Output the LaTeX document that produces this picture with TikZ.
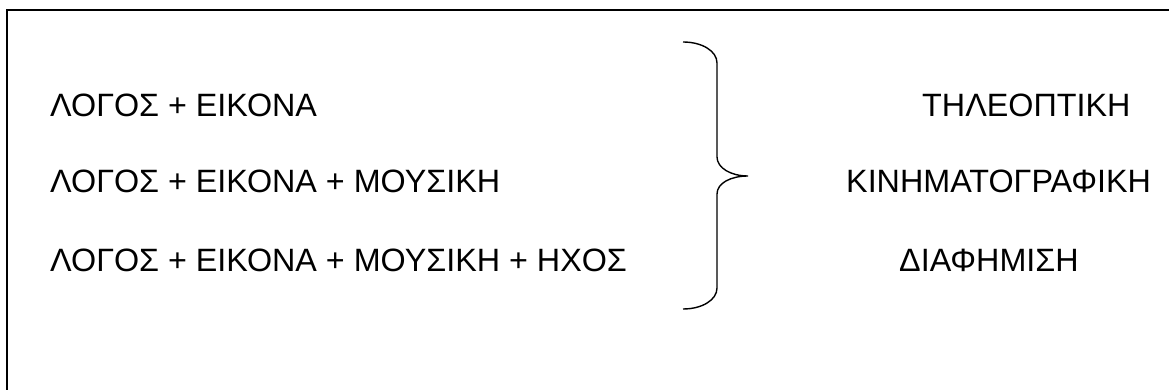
\documentclass[tikz,border=0pt]{standalone}
\usepackage{fontspec}
\setmainfont{Liberation Sans}
\begin{document}
\begin{tikzpicture}[x=1pt,y=-1pt,
  lbl/.style={anchor=base west,inner sep=0pt,font=\fontsize{32.3}{38}\selectfont},
  frame/.style={line width=2pt},
  bracepath/.style={line width=1.4pt}]
\useasboundingbox (0,0) rectangle (1169,390);
\draw[frame] (7,400) -- (7,10) -- (1180,10);
\node[lbl] (l1) at (50,117) {ΛΟΓΟΣ + ΕΙΚΟΝΑ};
\node[lbl] (l2) at (50,193) {ΛΟΓΟΣ + ΕΙΚΟΝΑ + ΜΟΥΣΙΚΗ};
\node[lbl] (l3) at (50,271) {ΛΟΓΟΣ + ΕΙΚΟΝΑ + ΜΟΥΣΙΚΗ + ΗΧΟΣ};
\node[lbl] (r1) at (922,117) {ΤΗΛΕΟΠΤΙΚΗ};
\node[lbl] (r2) at (846,193) {ΚΙΝΗΜΑΤΟΓΡΑΦΙΚΗ};
\node[lbl] (r3) at (899,271) {ΔΙΑΦΗΜΙΣΗ};
\draw[bracepath] (683,42) .. controls (702,42) and (717,51) .. (717,63)
  -- (717,157) .. controls (717,168) and (731,176) .. (748,176)
  .. controls (731,176) and (717,183) .. (717,194)
  -- (717,288) .. controls (717,300) and (702,309) .. (683,309);
\end{tikzpicture}
\end{document}
